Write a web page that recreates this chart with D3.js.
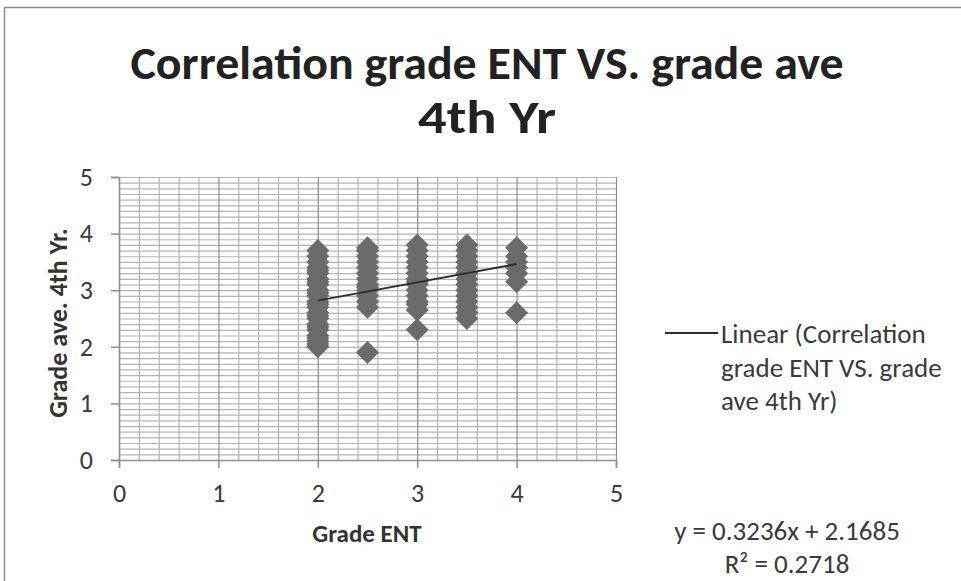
<!DOCTYPE html>
<html>
<head>
<meta charset="utf-8">
<script src="https://cdn.jsdelivr.net/npm/d3@7"></script>
<style>
  body { margin: 0; background: #fff; }
  text { font-family: Carlito, Calibri, "Open Sans", sans-serif; }
</style>
</head>
<body>
<div id="chart"></div>
<script>
let svgWidth = 961;
let svgHeight = 581;

// grade ENT groups and the grade averages
let gradeEnt = [2, 2.5, 3, 3.5, 4];
let ave2 = [2.0, 2.05, 2.1, 2.15, 2.2, 2.3, 2.35, 2.4, 2.5, 2.55, 2.6, 2.7, 2.75, 2.8, 2.9, 2.95, 3.0, 3.1, 3.15, 3.2, 3.3, 3.35, 3.4, 3.5, 3.6, 3.7];
let ave25 = [1.9, 2.7, 2.8, 2.9, 3.0, 3.05, 3.1, 3.2, 3.3, 3.4, 3.5, 3.6, 3.7, 3.75];
let ave3 = [2.3, 2.65, 2.75, 2.8, 2.9, 3.0, 3.1, 3.15, 3.2, 3.3, 3.4, 3.5, 3.6, 3.7, 3.8];
let ave35 = [2.5, 2.6, 2.7, 2.8, 2.9, 3.0, 3.1, 3.2, 3.3, 3.4, 3.5, 3.6, 3.7, 3.8];
let ave4 = [2.6, 3.15, 3.3, 3.4, 3.5, 3.6, 3.75];

// trendline as reported
let slope = 0.3236;
let intercept = 2.1685;
let rSquared = 0.2718;

let xTicks = [0, 1, 2, 3, 4, 5];
let yTicks = [0, 1, 2, 3, 4, 5];

let titleLines = ["Correlation grade ENT VS. grade ave", "4th Yr"];
let legendLines = ["Linear (Correlation", "grade ENT VS. grade", "ave 4th Yr)"];

let margin = { top: 177, left: 119 };
let width = 616 - 119;
let height = 460 - 177;

let svg = d3.select("#chart")
  .append("svg")
  .attr("width", svgWidth)
  .attr("height", svgHeight);

// outer chart frame
svg.append("rect")
  .attr("x", 4.5)
  .attr("y", 7.5)
  .attr("width", 1000)
  .attr("height", 1000)
  .attr("fill", "none")
  .attr("stroke", "#8a8a8a")
  .attr("stroke-width", 1.5);

let chartGroup = svg.append("g")
  .attr("transform", `translate(${margin.left}, ${margin.top})`);

let xScale = d3.scaleLinear().domain([0, 5]).range([0, width]);
let yScale = d3.scaleLinear().domain([0, 5]).range([height, 0]);

// minor grid
chartGroup.append("g")
  .selectAll("line")
  .data(d3.range(0, 51).map(d => d / 10))
  .enter()
  .append("line")
  .attr("x1", 0)
  .attr("x2", width)
  .attr("y1", d => yScale(d) + 0.5)
  .attr("y2", d => yScale(d) + 0.5)
  .attr("stroke", "#b4b4b4")
  .attr("stroke-width", 1.2);

chartGroup.append("g")
  .selectAll("line")
  .data(d3.range(0, 26).map(d => d / 5))
  .enter()
  .append("line")
  .attr("y1", 0)
  .attr("y2", height)
  .attr("x1", d => xScale(d) + 0.5)
  .attr("x2", d => xScale(d) + 0.5)
  .attr("stroke", d => Number.isInteger(Math.round(d * 1000) / 1000) ? "#8e8e8e" : "#b4b4b4")
  .attr("stroke-width", 1.2);

// axes
let bottomAxis = d3.axisBottom(xScale).tickValues(xTicks).tickFormat(d3.format("d")).tickSize(8).tickPadding(16);
let leftAxis = d3.axisLeft(yScale).tickValues(yTicks).tickFormat(d3.format("d")).tickSize(8).tickPadding(18);

let xAxisG = chartGroup.append("g")
  .attr("transform", `translate(0, ${height})`)
  .call(bottomAxis);

let yAxisG = chartGroup.append("g")
  .call(leftAxis);

[xAxisG, yAxisG].forEach(g => {
  g.select(".domain").attr("stroke", "#8e8e8e").attr("stroke-width", 1.5);
  g.selectAll(".tick line").attr("stroke", "#8e8e8e").attr("stroke-width", 1.5);
  g.selectAll(".tick text")
    .attr("font-size", "26px")
    .attr("fill", "#3a3a3a")
    .style("font-family", "Carlito, Calibri, 'Open Sans', sans-serif");
});

// points
let points = [];
[ave2, ave25, ave3, ave35, ave4].forEach((col, i) => {
  col.forEach(v => points.push({ x: gradeEnt[i], y: v }));
});

let diamond = "M0,-11.5L11.5,0L0,11.5L-11.5,0Z";

chartGroup.selectAll(".pt")
  .data(points)
  .enter()
  .append("path")
  .attr("class", "pt")
  .attr("d", diamond)
  .attr("transform", d => `translate(${xScale(d.x)}, ${yScale(d.y)})`)
  .attr("fill", "#6b6b6b");

// trendline
let xMin = d3.min(points, d => d.x);
let xMax = d3.max(points, d => d.x);
chartGroup.append("line")
  .attr("x1", xScale(xMin))
  .attr("y1", yScale(slope * xMin + intercept))
  .attr("x2", xScale(xMax))
  .attr("y2", yScale(slope * xMax + intercept))
  .attr("stroke", "#2e2e2e")
  .attr("stroke-width", 2);

// title
svg.selectAll(".title")
  .data(titleLines)
  .enter()
  .append("text")
  .attr("class", "title")
  .attr("x", 487)
  .attr("y", (d, i) => 79 + i * 54)
  .attr("text-anchor", "middle")
  .attr("font-size", "47px")
  .attr("font-weight", "bold")
  .attr("fill", "#222")
  .attr("textLength", (d, i) => i === 0 ? 713 : 138)
  .attr("lengthAdjust", "spacingAndGlyphs")
  .text(d => d);

// axis titles
svg.append("text")
  .attr("x", 367)
  .attr("y", 542)
  .attr("text-anchor", "middle")
  .attr("font-size", "25px")
  .attr("font-weight", "bold")
  .attr("fill", "#333")
  .text("Grade ENT");

svg.append("text")
  .attr("transform", "rotate(-90)")
  .attr("x", -323)
  .attr("y", 67)
  .attr("text-anchor", "middle")
  .attr("font-size", "26px")
  .attr("font-weight", "bold")
  .attr("fill", "#333")
  .text("Grade ave. 4th Yr.");

// legend
svg.append("line")
  .attr("x1", 665)
  .attr("x2", 718)
  .attr("y1", 333)
  .attr("y2", 333)
  .attr("stroke", "#2e2e2e")
  .attr("stroke-width", 2);

svg.selectAll(".legend")
  .data(legendLines)
  .enter()
  .append("text")
  .attr("class", "legend")
  .attr("x", 721)
  .attr("y", (d, i) => 343 + i * 33.5)
  .attr("font-size", "27px")
  .attr("fill", "#3a3a3a")
  .text(d => d);

// equation
svg.append("text")
  .attr("x", 787)
  .attr("y", 540)
  .attr("text-anchor", "middle")
  .attr("font-size", "27px")
  .attr("fill", "#3a3a3a")
  .text(`y = ${slope}x + ${intercept}`);

svg.append("text")
  .attr("x", 787)
  .attr("y", 573)
  .attr("text-anchor", "middle")
  .attr("font-size", "27px")
  .attr("fill", "#3a3a3a")
  .text(`R² = ${rSquared}`);
</script>
</body>
</html>
